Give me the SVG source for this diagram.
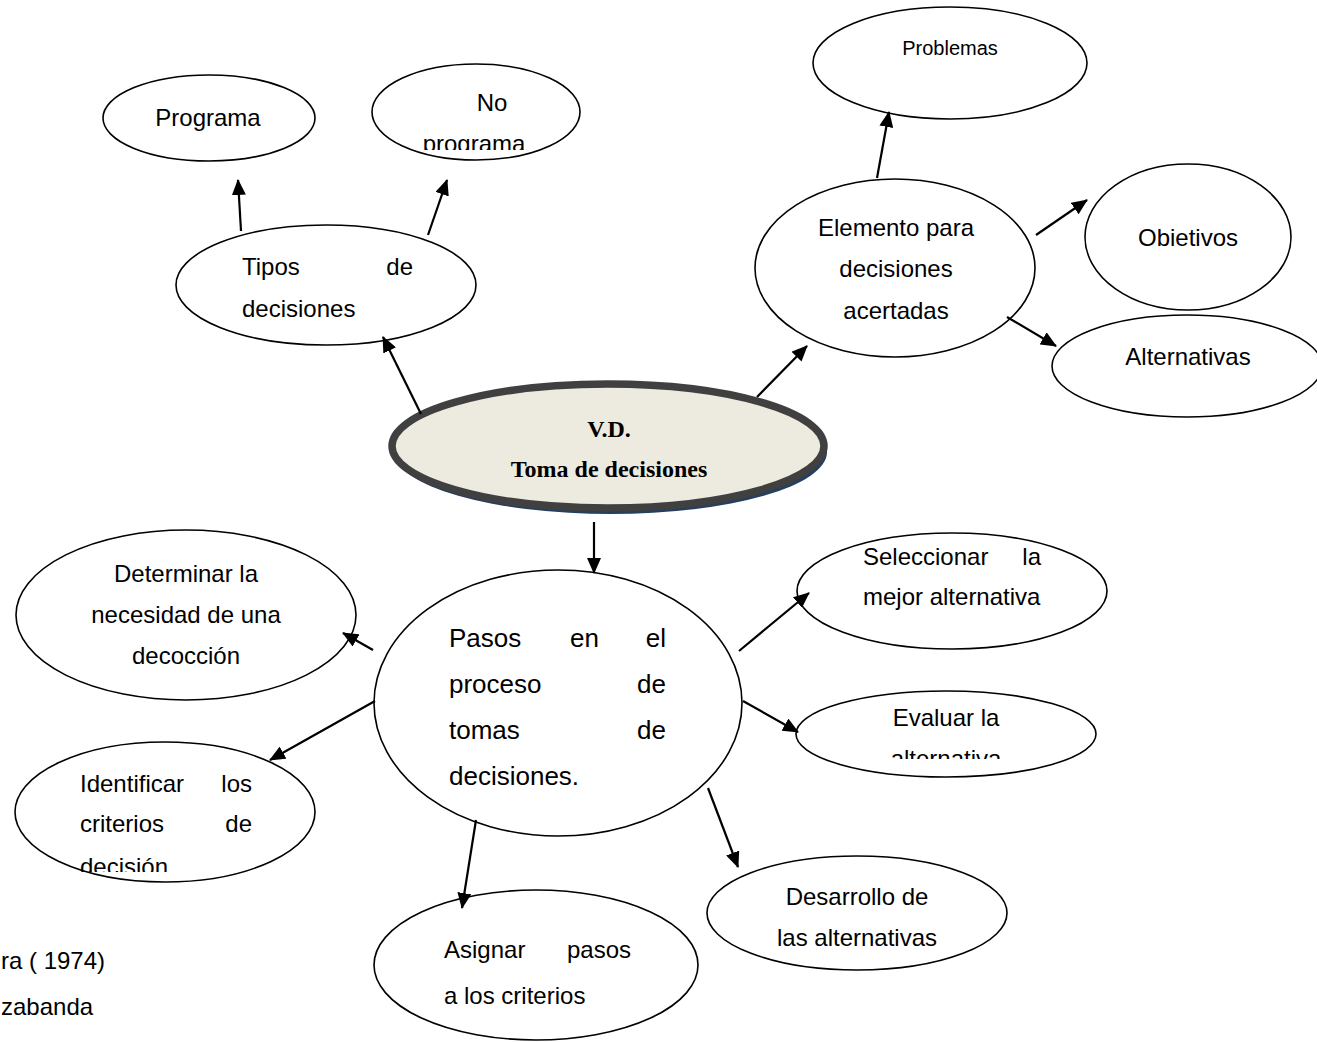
<svg xmlns="http://www.w3.org/2000/svg" width="1317" height="1043" viewBox="0 0 1317 1043">
  <style>
    .node { fill: #ffffff; stroke: #000000; stroke-width: 1.6; }
    .t { font-family: "Liberation Sans", Arial, sans-serif; font-size: 24px; fill: #000000; }
    .big { font-size: 26px; }
    .small { font-size: 20px; }
    .mid { text-anchor: middle; }
    .end { text-anchor: end; }
    .title { font-family: "Liberation Serif", "Times New Roman", serif; font-size: 24px; font-weight: bold; text-anchor: middle; fill: #000000; }
    .link { stroke: #000000; stroke-width: 2.2; fill: none; marker-end: url(#head); }
  </style>
  <defs>
    <marker id="head" markerUnits="userSpaceOnUse" markerWidth="16" markerHeight="14" refX="15" refY="7" orient="auto">
      <path d="M0,0 L16,7 L0,14 Z" fill="#000000"/>
    </marker>
    <clipPath id="clipNo"><rect x="360" y="60" width="230" height="90"/></clipPath>
    <clipPath id="clipEval"><rect x="790" y="690" width="320" height="69"/></clipPath>
    <clipPath id="clipIdent"><rect x="10" y="740" width="320" height="132"/></clipPath>
  </defs>

  <rect width="1317" height="1043" fill="#ffffff"/>

  <!-- central node -->
  <g id="central">
    <ellipse cx="611" cy="452" rx="216" ry="62" fill="#243f60"/>
    <ellipse cx="608" cy="446" rx="216" ry="62" fill="#edebe0" stroke="#404040" stroke-width="7.5"/>
    <text class="title" x="609" y="437">V.D.</text>
    <text class="title" x="609" y="477">Toma de decisiones</text>
  </g>

  <g id="tipos">
    <ellipse class="node" cx="326" cy="285" rx="150" ry="60"/>
    <text class="t" x="242" y="275">Tipos</text>
    <text class="t end" x="413" y="275">de</text>
    <text class="t" x="242" y="317">decisiones</text>
  </g>

  <g id="programa">
    <ellipse class="node" cx="209" cy="118" rx="106" ry="43"/>
    <text class="t mid" x="208" y="126">Programa</text>
  </g>

  <g id="no-programa">
    <ellipse class="node" cx="476" cy="112" rx="104" ry="48"/>
    <text class="t mid" x="492" y="111">No</text>
    <text class="t mid" x="474" y="152" clip-path="url(#clipNo)">programa</text>
  </g>

  <g id="elemento">
    <ellipse class="node" cx="895" cy="268" rx="140" ry="89"/>
    <text class="t mid" x="896" y="236">Elemento para</text>
    <text class="t mid" x="896" y="277">decisiones</text>
    <text class="t mid" x="896" y="319">acertadas</text>
  </g>

  <g id="problemas">
    <ellipse class="node" cx="950" cy="63" rx="137" ry="56"/>
    <text class="t small mid" x="950" y="55">Problemas</text>
  </g>

  <g id="objetivos">
    <ellipse class="node" cx="1188" cy="237" rx="103" ry="73"/>
    <text class="t mid" x="1188" y="246">Obietivos</text>
  </g>

  <g id="alternativas">
    <ellipse class="node" cx="1187" cy="366" rx="135" ry="51"/>
    <text class="t mid" x="1188" y="365">Alternativas</text>
  </g>

  <g id="pasos">
    <ellipse class="node" cx="558" cy="703" rx="184" ry="133"/>
    <text class="t big" x="449" y="647">Pasos</text>
    <text class="t big" x="570" y="647">en</text>
    <text class="t big end" x="666" y="647">el</text>
    <text class="t big" x="449" y="693">proceso</text>
    <text class="t big end" x="666" y="693">de</text>
    <text class="t big" x="449" y="739">tomas</text>
    <text class="t big end" x="666" y="739">de</text>
    <text class="t big" x="449" y="785">decisiones.</text>
  </g>

  <g id="determinar">
    <ellipse class="node" cx="186" cy="615" rx="170" ry="85"/>
    <text class="t mid" x="186" y="582">Determinar la</text>
    <text class="t mid" x="186" y="623">necesidad de una</text>
    <text class="t mid" x="186" y="664">decocción</text>
  </g>

  <g id="identificar">
    <ellipse class="node" cx="165" cy="812" rx="150" ry="70"/>
    <text class="t" x="80" y="792">Identificar</text>
    <text class="t end" x="252" y="792">los</text>
    <text class="t" x="80" y="832">criterios</text>
    <text class="t end" x="252" y="832">de</text>
    <text class="t" x="80" y="875" clip-path="url(#clipIdent)">decisión</text>
  </g>

  <g id="asignar">
    <ellipse class="node" cx="536" cy="965" rx="162" ry="75"/>
    <text class="t" x="444" y="958">Asignar</text>
    <text class="t end" x="631" y="958">pasos</text>
    <text class="t" x="444" y="1004">a los criterios</text>
  </g>

  <g id="desarrollo">
    <ellipse class="node" cx="857" cy="913" rx="150" ry="57"/>
    <text class="t mid" x="857" y="905">Desarrollo de</text>
    <text class="t mid" x="857" y="946">las alternativas</text>
  </g>

  <g id="seleccionar">
    <ellipse class="node" cx="952" cy="591" rx="155" ry="58"/>
    <text class="t" x="863" y="565">Seleccionar</text>
    <text class="t end" x="1041" y="565">la</text>
    <text class="t" x="863" y="605">mejor alternativa</text>
  </g>

  <g id="evaluar">
    <ellipse class="node" cx="946" cy="734" rx="150" ry="43"/>
    <text class="t mid" x="946" y="726">Evaluar la</text>
    <text class="t mid" x="946" y="767" clip-path="url(#clipEval)">alternativa</text>
  </g>

  <!-- connectors, drawn over the node outlines -->
  <g id="connectors">
    <line class="link" x1="421" y1="414" x2="383" y2="337"/>
    <line class="link" x1="241" y1="231" x2="238" y2="180"/>
    <line class="link" x1="428" y1="235" x2="447" y2="180"/>
    <line class="link" x1="757" y1="397" x2="807" y2="346"/>
    <line class="link" x1="877" y1="178" x2="889" y2="112"/>
    <line class="link" x1="1036" y1="235" x2="1087" y2="200"/>
    <line class="link" x1="1007" y1="317" x2="1056" y2="346"/>
    <line class="link" x1="594" y1="522" x2="594" y2="573"/>
    <line class="link" x1="373" y1="650" x2="343" y2="633"/>
    <line class="link" x1="375" y1="701" x2="270" y2="760"/>
    <line class="link" x1="476" y1="820" x2="462" y2="908"/>
    <line class="link" x1="708" y1="788" x2="738" y2="867"/>
    <line class="link" x1="739" y1="651" x2="809" y2="593"/>
    <line class="link" x1="743" y1="701" x2="798" y2="732"/>
  </g>

  <!-- source note -->
  <text class="t" x="1" y="969">ra ( 1974)</text>
  <text class="t" x="1" y="1015">zabanda</text>
</svg>
